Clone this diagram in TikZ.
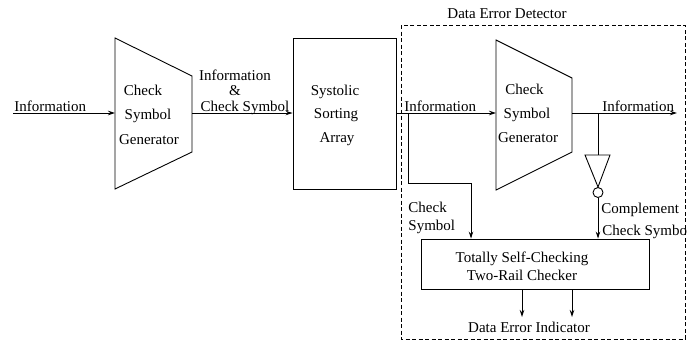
\documentclass[tikz,border=0pt]{standalone}
\usepackage{fontspec}
\setmainfont{Liberation Serif}
\usetikzlibrary{arrows.meta}
\tikzset{
  lbl/.style={inner sep=0pt, anchor=base},
  lblw/.style={inner sep=0pt, anchor=base west},
  blk/.style={draw, inner sep=0pt},
  dbox/.style={draw, dash pattern=on 4pt off 2.5pt, line width=0.8pt},
}
\begin{document}
\begin{tikzpicture}[x=1pt,y=-1pt, line width=0.9pt,
  font=\fontsize{15}{17}\selectfont,
  >={Stealth[length=7pt,width=4.5pt]}]
\useasboundingbox (0,0) rectangle (687,343);

% Generator 1
\draw (115,38) -- (192,76) -- (192,152) -- (115,189) -- cycle;
\coordinate (g1in) at (115,113);
\coordinate (g1out) at (192,113);
\node[lbl] (g1a) at (143,95) {Check};
\node[lbl] (g1b) at (148,119) {Symbol};
\node[lbl] (g1c) at (149,144) {Generator};

% Systolic sorting array
\node[blk, minimum width=103pt, minimum height=151pt] (ssa) at (344.5,113.5) {};
\node[lbl] (ssaa) at (335,95) {Systolic};
\node[lbl] (ssab) at (336,118) {Sorting};
\node[lbl] (ssac) at (337,142) {Array};

% Data error detector
\draw[dbox] (401,25) rectangle (685,339);
\node[lblw] (title) at (447,18) {Data Error Detector};

% Generator 2
\draw (496,40) -- (572,78) -- (572,152) -- (496,190) -- cycle;
\coordinate (g2in) at (496,113);
\coordinate (g2out) at (572,113);
\node[lbl] (g2a) at (524.5,94) {Check};
\node[lbl] (g2b) at (527,118) {Symbol};
\node[lbl] (g2c) at (528,142) {Generator};

% Checker
\node[blk, minimum width=228pt, minimum height=50pt] (chk) at (535,264) {};
\node[lbl] (chka) at (522,262) {Totally Self-Checking};
\node[lbl] (chkb) at (522,280) {Two-Rail Checker};

% Inverter
\draw (585,155) -- (610,155) -- (598,187) -- cycle;
\node[draw, circle, minimum size=10pt, inner sep=0pt] (inv) at (598,192.5) {};

% coordinates
\coordinate (in0) at (13,113);
\coordinate (j1) at (408,113);
\coordinate (j1b) at (408,183);
\coordinate (j1c) at (471,183);
\coordinate (j2) at (598,113);
\coordinate (out0) at (677,113);

% connectors
\draw[->] (in0) -- (g1in);
\draw[->] (g1out) -- (ssa.west |- g1out);
\draw[->] (ssa.east |- g2in) -- (g2in);
\draw[->] (j1) -- (j1b) -- (j1c) -- (j1c |- chk.north);
\draw[->] (g2out) -- (out0);
\draw (j2) -- (598,155);
\draw[->] (inv.south) -- (inv.south |- chk.north);
\draw[->] (chk.south -| 522,0) -- (522,317);
\draw[->] (chk.south -| 572,0) -- (572,317);

% labels
\node[lblw] (l1) at (14,111) {Information};
\node[lbl] (l2a) at (235,80) {Information};
\node[lbl] (l2b) at (235,95) {\&};
\node[lbl] (l2c) at (245,111) {Check Symbol};
\node[lblw] (l3) at (404,111) {Information};
\node[lblw] (l4) at (602,111) {Information};
\node[lblw] (l5a) at (408,212) {Check};
\node[lblw] (l5b) at (408,230) {Symbol};
\node[lblw] (l6a) at (601,213) {Complement};
\node[lblw] (l6b) at (602,235) {Check Symbol};
\node[lbl] (l7) at (529,332) {Data Error Indicator};
\end{tikzpicture}
\end{document}
